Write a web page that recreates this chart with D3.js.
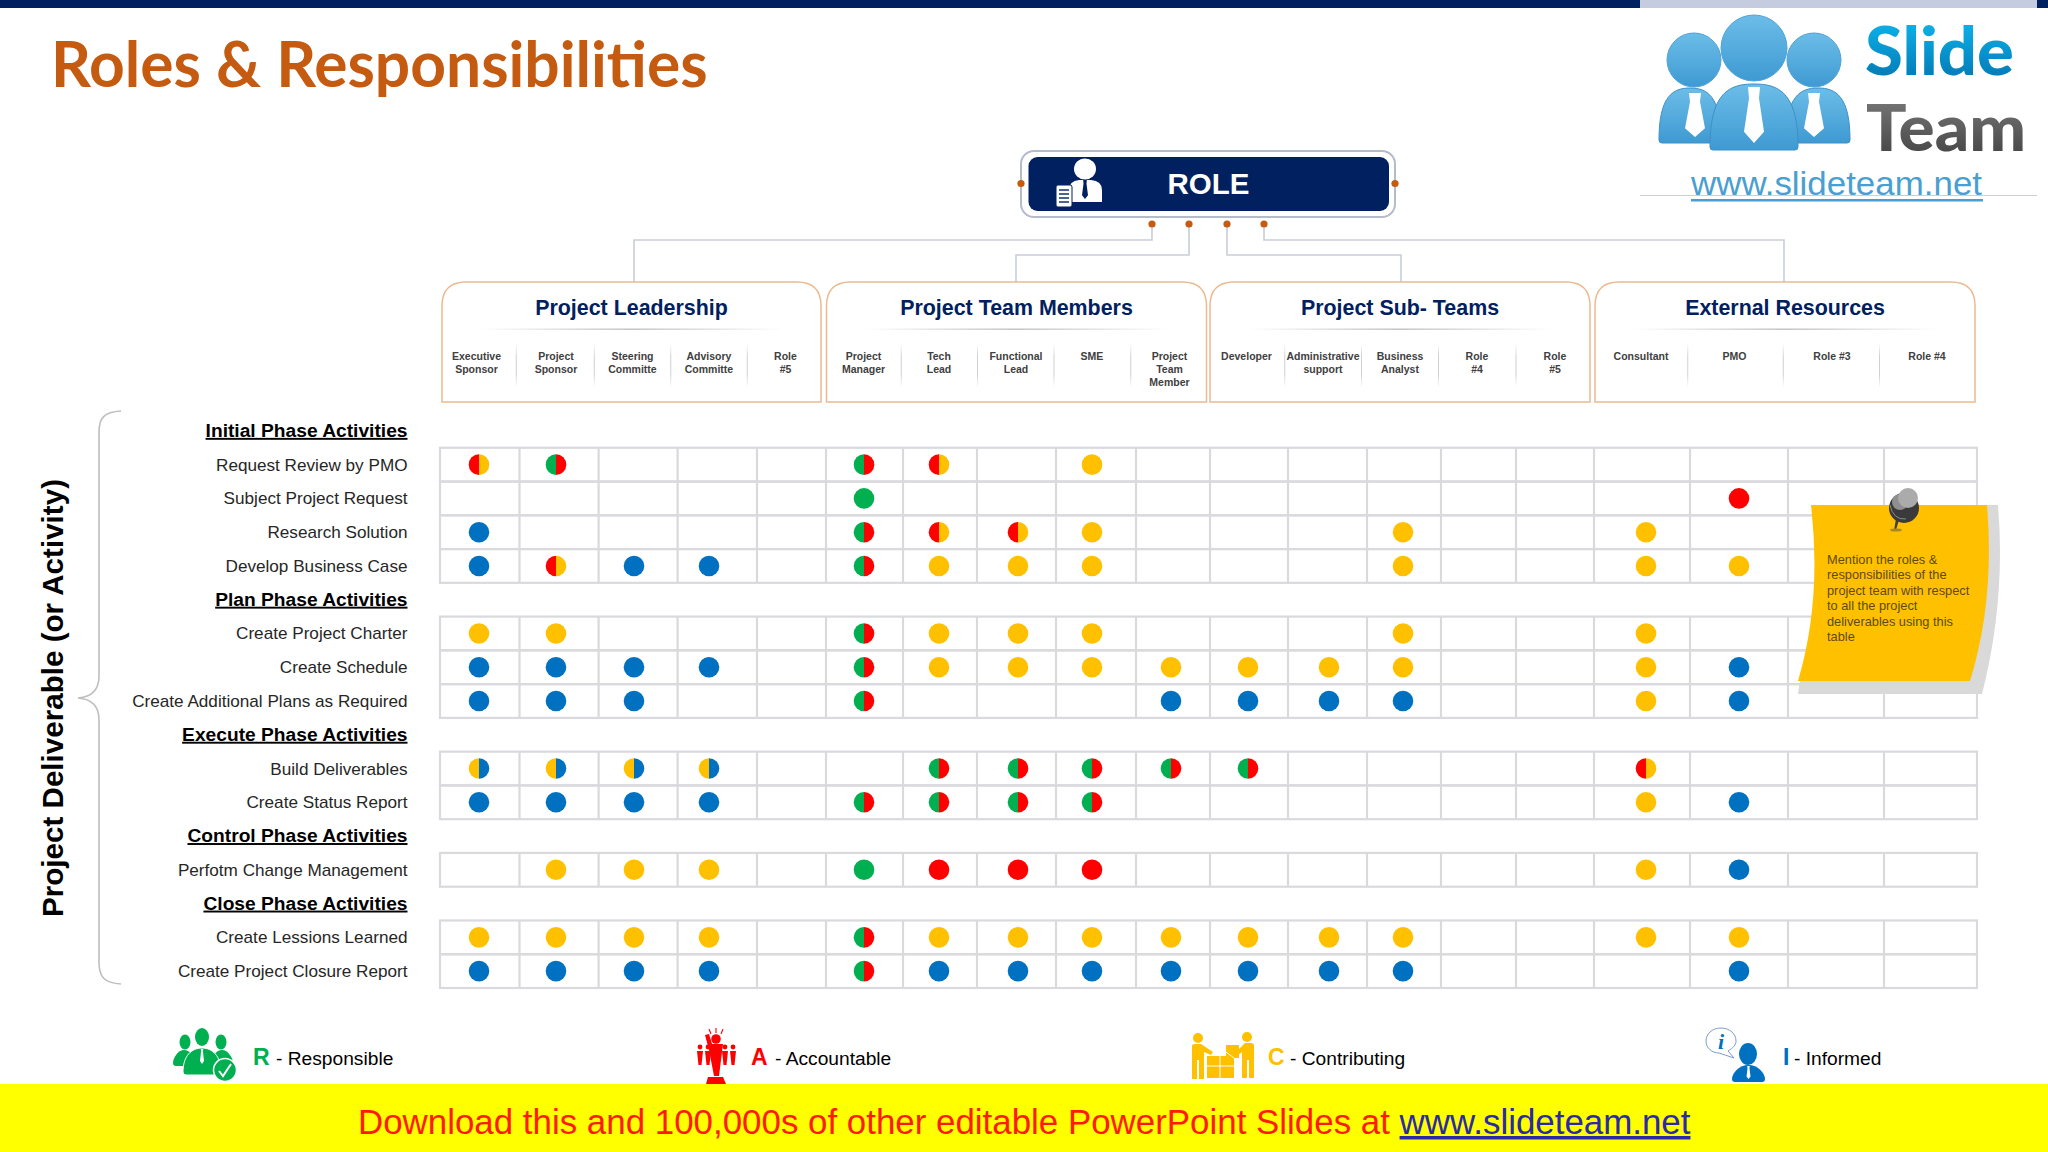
<!DOCTYPE html>
<html><head><meta charset="utf-8">
<script src="https://cdn.jsdelivr.net/npm/d3@7/dist/d3.min.js"></script>
<style>html,body{margin:0;padding:0;background:#fff;overflow:hidden}svg{display:block}text{font-family:"Liberation Sans",Arial,sans-serif}</style>
</head><body><svg id="c" width="2048" height="1152"></svg>
<script>
// ---------- data ----------
const slideTitle = "Roles & Responsibilities";
const groupNames = ["Project Leadership","Project Team Members","Project Sub- Teams","External Resources"];
const groupSizes = [5,5,5,4];
const roleLabels = [
 ["Executive","Sponsor"],["Project","Sponsor"],["Steering","Committe"],["Advisory","Committe"],["Role","#5"],
 ["Project","Manager"],["Tech","Lead"],["Functional","Lead"],["SME"],["Project","Team","Member"],
 ["Developer"],["Administrative","support"],["Business","Analyst"],["Role","#4"],["Role","#5"],
 ["Consultant"],["PMO"],["Role #3"],["Role #4"]];
const rowLabels = ["Initial Phase Activities","Request Review by PMO","Subject Project Request","Research Solution","Develop Business Case",
 "Plan Phase Activities","Create Project Charter","Create Schedule","Create Additional Plans as Required",
 "Execute Phase Activities","Build Deliverables","Create Status Report",
 "Control Phase Activities","Perfotm Change Management",
 "Close Phase Activities","Create Lessions Learned","Create Project Closure Report"];
const headerRows = ["Initial Phase Activities","Plan Phase Activities","Execute Phase Activities","Control Phase Activities","Close Phase Activities"];
// one code per role column: R, A, C, I, or a pair for a split dot (left half, right half)
const requestReview   = ["AC","RA","","","", "RA","AC","","C","", "","","","","", "","","",""];
const subjectRequest  = ["","","","","", "R","","","","", "","","","","", "","A","",""];
const researchSolution= ["I","","","","", "RA","AC","AC","C","", "","","C","","", "C","","",""];
const businessCase    = ["I","AC","I","I","", "RA","C","C","C","", "","","C","","", "C","C","",""];
const projectCharter  = ["C","C","","","", "RA","C","C","C","", "","","C","","", "C","","",""];
const createSchedule  = ["I","I","I","I","", "RA","C","C","C","C", "C","C","C","","", "C","I","",""];
const additionalPlans = ["I","I","I","","", "RA","","","","I", "I","I","I","","", "C","I","",""];
const buildDeliverables=["CI","CI","CI","CI","", "","RA","RA","RA","RA", "RA","","","","", "AC","","",""];
const statusReport    = ["I","I","I","I","", "RA","RA","RA","RA","", "","","","","", "C","I","",""];
const changeManagement= ["","C","C","C","", "R","A","A","A","", "","","","","", "C","I","",""];
const lessonsLearned  = ["C","C","C","C","", "RA","C","C","C","C", "C","C","C","","", "C","C","",""];
const closureReport   = ["I","I","I","I","", "RA","I","I","I","I", "I","I","I","","", "","I","",""];
const rowCells = {"Request Review by PMO":requestReview,"Subject Project Request":subjectRequest,"Research Solution":researchSolution,
 "Develop Business Case":businessCase,"Create Project Charter":projectCharter,"Create Schedule":createSchedule,
 "Create Additional Plans as Required":additionalPlans,"Build Deliverables":buildDeliverables,"Create Status Report":statusReport,
 "Perfotm Change Management":changeManagement,"Create Lessions Learned":lessonsLearned,"Create Project Closure Report":closureReport};
const legendCodes = ["R","A","C","I"];
const legendNames = ["Responsible","Accountable","Contributing","Informed"];
const noteLines = ["Mention the roles &","responsibilities of the","project team with respect","to all the project","deliverables using this","table"];

// ---------- layout ----------
const colEdges = [440,519.5,598.6,677.6,757,826,903,977,1056,1136,1210,1288,1367,1441,1516,1594,1690,1788,1884,1977];
const dotCentres = [479,556,634,709,786,864,939,1018,1092,1171,1248,1329,1403,1476,1554,1646,1739,1836,1930];
const labelCentres = [476.5,556,632.5,709,785.5,863.5,939,1016,1092,1169.5,1246.5,1323,1400,1477,1555,1641,1734.5,1832,1927];
const cards = [[442,821],[826.5,1206.5],[1210,1590],[1595,1975]];
const idx = d3.range(roleLabels.length);
const xEdge = d3.scaleOrdinal(d3.range(colEdges.length), colEdges);
const xDot = d3.scaleOrdinal(idx, dotCentres);
const xLabel = d3.scaleOrdinal(idx, labelCentres);
const y = d3.scaleBand().domain(rowLabels).range([414,988]);
const colour = d3.scaleOrdinal(legendCodes, ["#00B050","#FF0000","#FFC000","#0070C0"]);
const navy = "#002060", rust = "#C55A11";

const svg = d3.select("#c");
const defs = svg.append("defs");
function grad(id, stops, vert=true){
  const g = defs.append("linearGradient").attr("id",id).attr("x1",0).attr("y1",0).attr("x2",vert?0:1).attr("y2",vert?1:0);
  stops.forEach(([o,c,a])=>g.append("stop").attr("offset",o).attr("stop-color",c).attr("stop-opacity",a===undefined?1:a));
}
grad("slide",[[0,"#10BDF2"],[1,"#0070AE"]]);
grad("team",[[0,"#808080"],[1,"#3F3F3F"]]);
grad("person",[[0,"#6CBDE8"],[1,"#3E9AD2"]]);
grad("fadeH",[[0,"#BFBFBF",0],[.5,"#BFBFBF",1],[1,"#BFBFBF",0]],false);
grad("fadeV",[[0,"#D0D0D0",0],[.3,"#D0D0D0",1],[.7,"#D0D0D0",1],[1,"#D0D0D0",0]]);

svg.append("rect").attr("width",2048).attr("height",1152).attr("fill","#fff");
// top bar
svg.append("rect").attr("width",2048).attr("height",8).attr("fill",navy);
svg.append("rect").attr("x",1640).attr("width",397).attr("height",8).attr("fill","#C5CCDF");

// title
svg.append("text").attr("x",51).attr("y",86.5).text(slideTitle)
  .style("font-family","Lato,sans-serif").style("font-weight",700).style("font-size","62.3px").attr("fill",rust);

// logo
const logo = svg.append("g");
function bust(g,cx,top,bottom,hw,fill){
  const p=d3.path(); p.moveTo(cx-hw,bottom-3);
  p.bezierCurveTo(cx-hw,top+8,cx-hw*.55,top,cx,top);
  p.bezierCurveTo(cx+hw*.55,top,cx+hw,top+8,cx+hw,bottom-3);
  p.quadraticCurveTo(cx+hw,bottom,cx+hw-3,bottom); p.lineTo(cx-hw+3,bottom);
  p.quadraticCurveTo(cx-hw,bottom,cx-hw,bottom-3); p.closePath();
  return g.append("path").attr("d",p.toString()).attr("fill",fill);
}
function tie(g,cx,top,bottom,w,fill){
  g.append("path").attr("d",d3.line()([[cx-w*.6,top],[cx+w*.6,top],[cx+w*.5,top+(bottom-top)*.2],[cx+w,bottom-(bottom-top)*.2],[cx,bottom],[cx-w,bottom-(bottom-top)*.2],[cx-w*.5,top+(bottom-top)*.2]])+"Z").attr("fill",fill);
}
bust(logo,1690,88,143,31,"url(#person)").attr("stroke","#3E8FC6");
bust(logo,1818,88,143,32,"url(#person)").attr("stroke","#3E8FC6");
tie(logo,1695,93,137,10,"#fff"); tie(logo,1814,93,137,10,"#fff");
bust(logo,1754,84,150,44,"url(#person)").attr("stroke","#3E8FC6");
tie(logo,1754,87,143,10,"#fff");
[[1694,60,27],[1814,60,27],[1754,48,33]].forEach(([cx,cy,r])=>logo.append("circle").attr("cx",cx).attr("cy",cy).attr("r",r).attr("fill","url(#person)").attr("stroke","#4FA3D6"));
logo.append("text").attr("x",1865).attr("y",75).text("Slide").attr("textLength",149).attr("lengthAdjust","spacingAndGlyphs")
  .style("font-family","Lato,sans-serif").style("font-weight",900).style("font-size","66px").attr("fill","url(#slide)");
logo.append("text").attr("x",1866).attr("y",151).text("Team").attr("textLength",160).attr("lengthAdjust","spacingAndGlyphs")
  .style("font-family","Lato,sans-serif").style("font-weight",900).style("font-size","65px").attr("fill","url(#team)");
logo.append("text").attr("x",1691).attr("y",195).text("www.slideteam.net").attr("textLength",291).attr("lengthAdjust","spacingAndGlyphs")
  .style("font-size","33px").attr("fill","#4A9FD0");
logo.append("rect").attr("x",1640).attr("y",195).attr("width",397).attr("height",1).attr("fill","#CFCFCF");
logo.append("rect").attr("x",1691).attr("y",199).attr("width",292).attr("height",2.5).attr("fill","#4A9FD0");

// ROLE box
svg.append("rect").attr("x",1021).attr("y",151).attr("width",374).attr("height",66).attr("rx",13)
  .attr("fill","#fff").attr("stroke","#B4BCCC").attr("stroke-width",2);
svg.append("rect").attr("x",1028.5).attr("y",157).attr("width",360.5).attr("height",54).attr("rx",9).attr("fill",navy);
svg.append("text").attr("x",1208.5).attr("y",194).attr("text-anchor","middle").text("ROLE")
  .style("font-weight",700).style("font-size","29.5px").attr("fill","#fff");
// ROLE icon
svg.append("ellipse").attr("cx",1085).attr("cy",169).attr("rx",11).attr("ry",10.5).attr("fill","#fff");
svg.append("path").attr("d","M1069 202 L1069 190 Q1069 181 1079 180 L1091 180 Q1102 181 1102 190 L1102 202 Z").attr("fill","#fff");
tie(svg,1085,180,199,3,navy);
svg.append("rect").attr("x",1056).attr("y",185).attr("width",16).attr("height",22).attr("rx",2).attr("fill","#fff").attr("stroke",navy);
[190,194,198,202].forEach(v=>svg.append("line").attr("x1",1059).attr("x2",1069).attr("y1",v).attr("y2",v).attr("stroke",navy).attr("stroke-width",1.4));

// connectors
const connLine = d3.line();
[[[1152,224],[1152,240],[634,240],[634,282]],
 [[1189,224],[1189,255],[1016,255],[1016,282]],
 [[1227,224],[1227,255],[1401,255],[1401,282]],
 [[1264,224],[1264,240],[1784,240],[1784,282]]].forEach(p=>svg.append("path").attr("d",connLine(p)).attr("fill","none").attr("stroke","#C9CDD6").attr("stroke-width",1.6));
[[1021,183.5],[1395,183.5],[1152,224],[1189,224],[1227,224],[1264,224]].forEach(([cx,cy])=>
  svg.append("circle").attr("cx",cx).attr("cy",cy).attr("r",3.6).attr("fill",rust));

// header cards
let start = 0;
groupNames.forEach((name,gi)=>{
  const [x0,x1]=cards[gi], top=282, bot=402, r=24, cx=(x0+x1)/2;
  svg.append("path").attr("d",`M${x0} ${bot}V${top+r}Q${x0} ${top} ${x0+r} ${top}H${x1-r}Q${x1} ${top} ${x1} ${top+r}V${bot}Z`)
    .attr("fill","#fff").attr("stroke","#EDB98F").attr("stroke-width",1.5);
  svg.append("text").attr("x",cx).attr("y",315).attr("text-anchor","middle").text(name)
    .style("font-weight",700).style("font-size","21.4px").attr("fill",navy);
  svg.append("rect").attr("x",x0+37).attr("y",328.5).attr("width",x1-x0-74).attr("height",1.4).attr("fill","url(#fadeH)");
  const cols=d3.range(start,start+groupSizes[gi]);
  cols.forEach(c=>{
    roleLabels[c].forEach((line,i)=>svg.append("text").attr("x",xLabel(c)).attr("y",360+i*13).attr("text-anchor","middle")
      .text(line).style("font-weight",700).style("font-size","10.5px").attr("fill","#404040"));
    if(c<start+groupSizes[gi]-1){
      const mx=(xLabel(c)+xLabel(c+1))/2;
      svg.append("rect").attr("x",mx-.5).attr("y",343).attr("width",1).attr("height",45).attr("fill","url(#fadeV)");
    }
  });
  start+=groupSizes[gi];
});

// row labels
svg.append("g").selectAll("text").data(rowLabels).join("text")
  .attr("x",407.5).attr("y",d=>y(d)+y.bandwidth()/2+6).attr("text-anchor","end").text(d=>d)
  .style("font-size",d=>headerRows.includes(d)?"19.2px":"17.15px")
  .style("font-weight",d=>headerRows.includes(d)?700:400)
  .style("text-decoration",d=>headerRows.includes(d)?"underline":null)
  .attr("fill",d=>headerRows.includes(d)?"#000":"#262626");

// grid
const grid = svg.append("g").attr("stroke","#D9D9DE").attr("stroke-width",2.2);
rowLabels.filter(d=>!headerRows.includes(d)).forEach(d=>{
  grid.append("rect").attr("x",xEdge(0)).attr("y",y(d)).attr("width",xEdge(19)-xEdge(0)).attr("height",y.bandwidth()).attr("fill","none");
  d3.range(1,19).forEach(i=>grid.append("line").attr("x1",xEdge(i)).attr("x2",xEdge(i)).attr("y1",y(d)).attr("y2",y(d)+y.bandwidth()));
});

// dots
const rDot = 10.3;
const half = d3.arc().innerRadius(0).outerRadius(rDot);
const dots = svg.append("g");
rowLabels.filter(d=>rowCells[d]).forEach(d=>{
  rowCells[d].forEach((code,c)=>{
    if(!code) return;
    const g=dots.append("g").attr("transform",`translate(${xDot(c)},${y(d)+y.bandwidth()/2})`);
    if(code.length===1) g.append("circle").attr("r",rDot).attr("fill",colour(code));
    else {
      g.append("path").attr("d",half({startAngle:Math.PI,endAngle:2*Math.PI})).attr("fill",colour(code[0]));
      g.append("path").attr("d",half({startAngle:0,endAngle:Math.PI})).attr("fill",colour(code[1]));
    }
  });
});

// brace + vertical title
svg.append("path").attr("d","M121 411 C104 412 99 418 99 432 V676 C99 690 92 697 78 698 C92 699 99 706 99 720 V962 C99 977 104 983 121 984")
  .attr("fill","none").attr("stroke","#BFBFBF").attr("stroke-width",1.6);
svg.append("text").attr("transform","translate(63,698) rotate(-90)").attr("text-anchor","middle")
  .text("Project Deliverable (or Activity)").style("font-weight",700).style("font-size","29.6px").attr("fill","#000");

// sticky note
svg.append("path").attr("d","M1985 505 H1998 Q2006 600 1982 694 H1798 L1800 680 Z").attr("fill","#D9D9D9");
svg.append("path").attr("d","M1811 505 H1987 Q1995 600 1970 681 H1798 Q1822 600 1811 505 Z").attr("fill","#FFC000");
noteLines.forEach((t,i)=>svg.append("text").attr("x",1827).attr("y",564+i*15.4).text(t).style("font-size","12.8px").attr("fill","#5E4B0B"));
// pin
svg.append("path").attr("d","M1899 520 L1896 530 L1894 530 L1896 519 Z").attr("fill","#404040");
svg.append("ellipse").attr("cx",1896).attr("cy",530).attr("rx",6).attr("ry",1.6).attr("fill","#A68A20");
svg.append("circle").attr("cx",1904).attr("cy",508).attr("r",15).attr("fill","#3A3A3A");
svg.append("path").attr("d","M1890 505 Q1893 520 1906 519").attr("fill","none").attr("stroke","#8A8A8A").attr("stroke-width",1);
svg.append("circle").attr("cx",1900).attr("cy",502).attr("r",8).attr("fill","#8F8F8F");
svg.append("circle").attr("cx",1908).attr("cy",498).attr("r",10).attr("fill","#ABABAB");

// legend
const legendX = [[253,276],[751,775],[1268,1290],[1783,1794]];
legendCodes.forEach((code,i)=>{
  svg.append("text").attr("x",legendX[i][0]).attr("y",1065).text(code).style("font-weight",700).style("font-size","23px").attr("fill",colour(code));
  svg.append("text").attr("x",legendX[i][1]).attr("y",1065).text("- "+legendNames[i]).style("font-size","19.2px").attr("fill","#000");
});
// R icon
const iconR = svg.append("g").attr("fill",colour("R"));
[[185,1042,5.5,7.5],[221,1042,5.5,7.5],[202,1037,7,9]].forEach(([a,b,c,e])=>iconR.append("ellipse").attr("cx",a).attr("cy",b).attr("rx",c).attr("ry",e));
bust(iconR,184,1050,1066,11,colour("R"));bust(iconR,222,1050,1066,11,colour("R"));
bust(iconR,202,1048,1075,19,colour("R")).attr("stroke","#fff");
tie(iconR,202,1049,1064,2,"#fff");
iconR.append("circle").attr("cx",225).attr("cy",1070).attr("r",11.5).attr("stroke","#fff").attr("stroke-width",1.5);
iconR.append("path").attr("d","M219 1071 L223 1076 L231 1064").attr("fill","none").attr("stroke","#fff").attr("stroke-width",2);
// A icon
const iconA = svg.append("g").attr("fill",colour("A"));
iconA.append("circle").attr("cx",716).attr("cy",1039).attr("r",4.8);
iconA.append("path").attr("d","M705 1035 L709 1034 L712 1044 L723 1044 L719 1076 L714 1076 L709 1050 Z");
iconA.append("path").attr("d","M708 1077 H723 L726 1084 H706 Z");
[700,708,725,733].forEach(x=>{iconA.append("circle").attr("cx",x).attr("cy",1047).attr("r",2.4);
  iconA.append("path").attr("d",`M${x-3} 1051 H${x+3} L${x+1.5} 1065 H${x-1.5} Z`);});
[[709,1029,711,1034],[716,1028,716,1033],[723,1029,721,1034]].forEach(([a,b,c,e])=>iconA.append("line").attr("x1",a).attr("y1",b).attr("x2",c).attr("y2",e).attr("stroke",colour("A")).attr("stroke-width",1.1));
// C icon
const iconC = svg.append("g").attr("fill",colour("C"));
iconC.append("circle").attr("cx",1198).attr("cy",1038).attr("r",5);
iconC.append("circle").attr("cx",1247).attr("cy",1037).attr("r",5);
iconC.append("path").attr("d","M1192 1046 Q1192 1044 1195 1044 H1201 L1213 1052 L1211 1055 L1204 1052 V1079 H1199 V1060 H1197 V1079 H1192 Z");
iconC.append("path").attr("d","M1254 1046 Q1254 1043 1251 1043 H1245 L1235 1053 L1237 1056 L1242 1052 V1078 H1247 V1060 H1249 V1078 H1254 Z");
iconC.append("rect").attr("x",1207).attr("y",1056).attr("width",27).attr("height",22);
iconC.append("rect").attr("x",1226).attr("y",1045).attr("width",13).attr("height",13);
iconC.append("path").attr("d","M1220 1056 V1078 M1207 1066 H1234 M1226 1052 L1234 1058").attr("stroke","#fff").attr("stroke-width",1).attr("fill","none");
// I icon
const iconI = svg.append("g");
iconI.append("path").attr("d","M1721 1028 C1712 1028 1706 1034 1706 1041 C1706 1048 1712 1053 1719 1053 L1734 1058 L1728 1051 C1733 1048 1736 1045 1736 1041 C1736 1034 1730 1028 1721 1028 Z")
  .attr("fill","#fff").attr("stroke","#7E9BD1").attr("stroke-width",1);
iconI.append("text").attr("x",1721).attr("y",1049).attr("text-anchor","middle").text("i")
  .style("font-family","'Liberation Serif',serif").style("font-style","italic").style("font-weight",700).style("font-size","22px").attr("fill",colour("I"));
iconI.append("ellipse").attr("cx",1748).attr("cy",1054).attr("rx",9).attr("ry",11).attr("fill",colour("I"));
bust(iconI,1748.5,1065,1082,16.5,colour("I"));
tie(iconI,1748.5,1066,1079,2,"#fff");

// footer
svg.append("rect").attr("y",1084).attr("width",2048).attr("height",68).attr("fill","#FFFF00");
const foot = svg.append("text").attr("x",358).attr("y",1134).style("font-size","34.9px");
foot.append("tspan").attr("fill","#FF1A00").text("Download this and 100,000s of other editable PowerPoint Slides at ");
foot.append("tspan").attr("fill","#2A2AA6").style("text-decoration","underline").text("www.slideteam.net");
</script></body></html>
